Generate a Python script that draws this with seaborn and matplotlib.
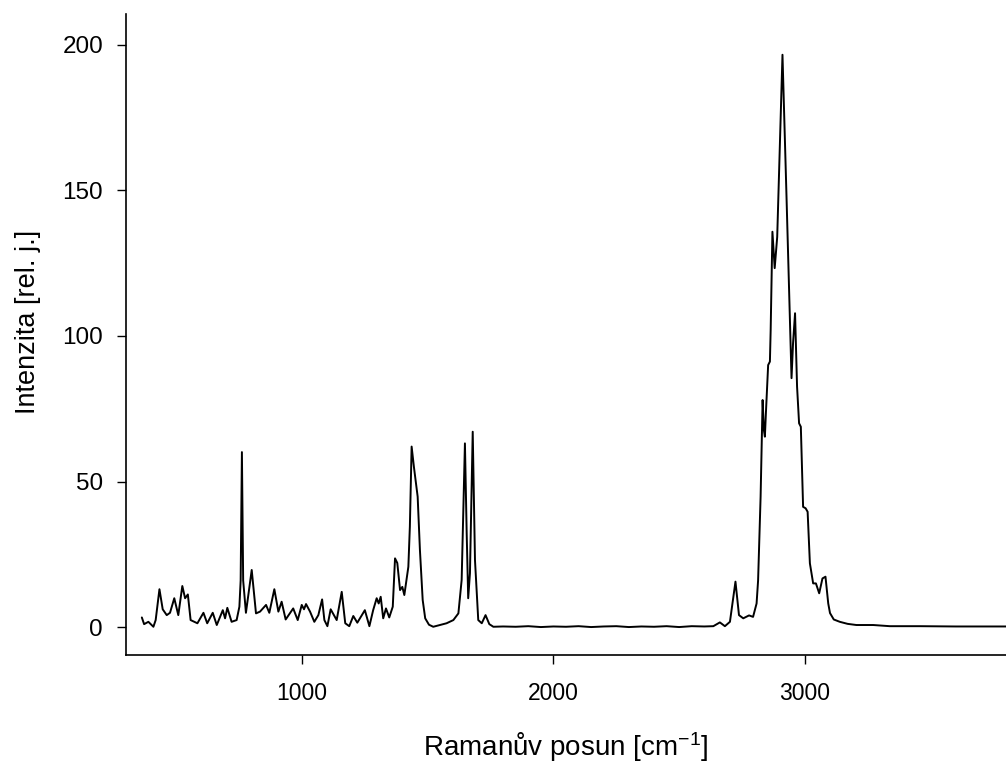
import matplotlib
matplotlib.use("Agg")
import matplotlib.pyplot as plt
import seaborn as sns
import pandas as pd

# Raman shift [cm^-1] and intensity [rel. units]
wavenumber = [
    363, 372, 389, 409, 418, 433, 446, 462, 475, 492, 508, 524, 535, 546, 557,
    584, 608, 623, 645, 661, 685, 694, 703, 720, 740, 751, 756, 761, 766, 777,
    800, 817, 833, 857, 870, 890, 906, 919, 935, 965, 983, 999, 1008, 1016,
    1032, 1049, 1065, 1080, 1089, 1101, 1114, 1138, 1158, 1172, 1188, 1204,
    1220, 1250, 1268, 1283, 1297, 1305, 1313, 1323, 1334, 1347, 1361, 1370,
    1379, 1390, 1399, 1407, 1423, 1429, 1436, 1445, 1460, 1469, 1480, 1490,
    1505, 1522, 1575, 1602, 1622, 1635, 1648, 1655, 1661, 1668, 1679, 1688, 1701,
    1715, 1730, 1745, 1761, 1800, 1850, 1900, 1950, 2000, 2050, 2100, 2150,
    2200, 2250, 2300, 2350, 2400, 2450, 2500, 2550, 2600, 2636, 2662, 2682,
    2702, 2724, 2738, 2755, 2778, 2794, 2808, 2814, 2824, 2832, 2837, 2841,
    2845, 2854, 2861, 2864, 2871, 2880, 2890, 2911, 2927, 2947, 2953, 2961,
    2969, 2977, 2984, 2993, 3003, 3011, 3020, 3033, 3044, 3057, 3070, 3082,
    3093, 3100, 3115, 3139, 3170, 3205, 3272, 3338, 3457, 3600, 3800,
]
intensity = [
    3.3, 1.0, 1.8, 0.1, 2.4, 13.0, 6.1, 4.1, 4.9, 9.9, 4.1, 14.1, 9.9, 11.2, 2.4,
    1.3, 4.9, 1.3, 4.9, 0.7, 5.8, 3.0, 6.6, 1.8, 2.4, 7.0, 16.0, 60.1, 16.0, 4.9,
    19.6, 4.7, 5.3, 7.6, 4.9, 13.0, 5.3, 8.7, 2.6, 6.4, 2.4, 7.6, 6.1, 7.9,
    5.3, 1.8, 4.1, 9.5, 2.4, 0.3, 6.1, 2.4, 12.1, 1.3, 0.3, 3.8,
    1.5, 5.8, 0.3, 5.8, 9.9, 8.1, 10.4, 3.0, 6.4, 3.3, 7.0, 23.6,
    22.0, 12.7, 13.8, 11.0, 20.7, 34.5, 62.0, 55.1, 44.8, 26.5, 9.3, 3.0,
    0.8, 0.1, 1.3, 2.4, 4.7, 16.2, 63.1, 32.2, 9.9, 18.5, 67.1, 23.0, 2.4,
    1.3, 4.1, 1.0, 0.1, 0.2, 0.1, 0.3, 0.0, 0.2, 0.1, 0.3, 0.0,
    0.2, 0.3, 0.0, 0.2, 0.1, 0.3, 0.0, 0.3, 0.2, 0.3, 1.6, 0.3,
    1.8, 15.6, 4.1, 3.0, 4.0, 3.5, 8.1, 16.0, 44.8, 78.0, 67.7, 65.4,
    73.4, 90.0, 91.2, 102.0, 135.8, 123.3, 134.0, 196.6, 147.9, 85.5, 97.5, 107.8,
    82.6, 70.0, 68.8, 41.3, 40.8, 39.6, 21.9, 15.0, 15.0, 11.6, 16.7, 17.3,
    8.1, 4.8, 2.6, 1.8, 1.1, 0.7, 0.7, 0.3, 0.3, 0.2, 0.2,
]
x_ticks = [1000, 2000, 3000]
y_ticks = [0, 50, 100, 150, 200]

df = pd.DataFrame({"shift": wavenumber, "intensity": intensity})

sns.set_style("ticks")
plt.rcParams["font.family"] = ["Liberation Sans", "DejaVu Sans"]
plt.rcParams["mathtext.fontset"] = "custom"
plt.rcParams["mathtext.rm"] = "Liberation Sans"
plt.rcParams["mathtext.it"] = "Liberation Sans"
plt.rcParams["mathtext.default"] = "regular"

fig = plt.figure(figsize=(10.06, 7.64), dpi=100)
ax = fig.add_axes([126 / 1006, 1 - 655 / 764, 880 / 1006, 641 / 764])

sns.lineplot(data=df, x="shift", y="intensity", ax=ax, color="black",
             linewidth=1.4, sort=False, estimator=None)

ax.set_xlim(300, 3800)
ax.set_ylim(-9.6, 210.6)
ax.set_xticks(x_ticks)
ax.set_yticks(y_ticks)
ax.set_xticklabels([str(v) for v in x_ticks])
ax.set_yticklabels([str(v) for v in y_ticks])

for side in ["top", "right"]:
    ax.spines[side].set_visible(False)
for side in ["left", "bottom"]:
    ax.spines[side].set_color("black")
    ax.spines[side].set_linewidth(1.2)

ax.tick_params(axis="both", direction="out", length=6.5, width=1.0,
               colors="black")
ax.tick_params(axis="x", pad=13, labelsize=16.5)
ax.tick_params(axis="y", pad=10, labelsize=17.5)

ax.set_xlabel("Ramanův posun [cm$^{-1}$]", fontsize=20, color="black")
ax.set_ylabel("Intenzita [rel. j.]", fontsize=19.5, color="black")
ax.xaxis.set_label_coords(0.5, -0.118)
ax.yaxis.set_label_coords(-0.097, 0.52)

fig.savefig("out.png", dpi=100, facecolor="white")
